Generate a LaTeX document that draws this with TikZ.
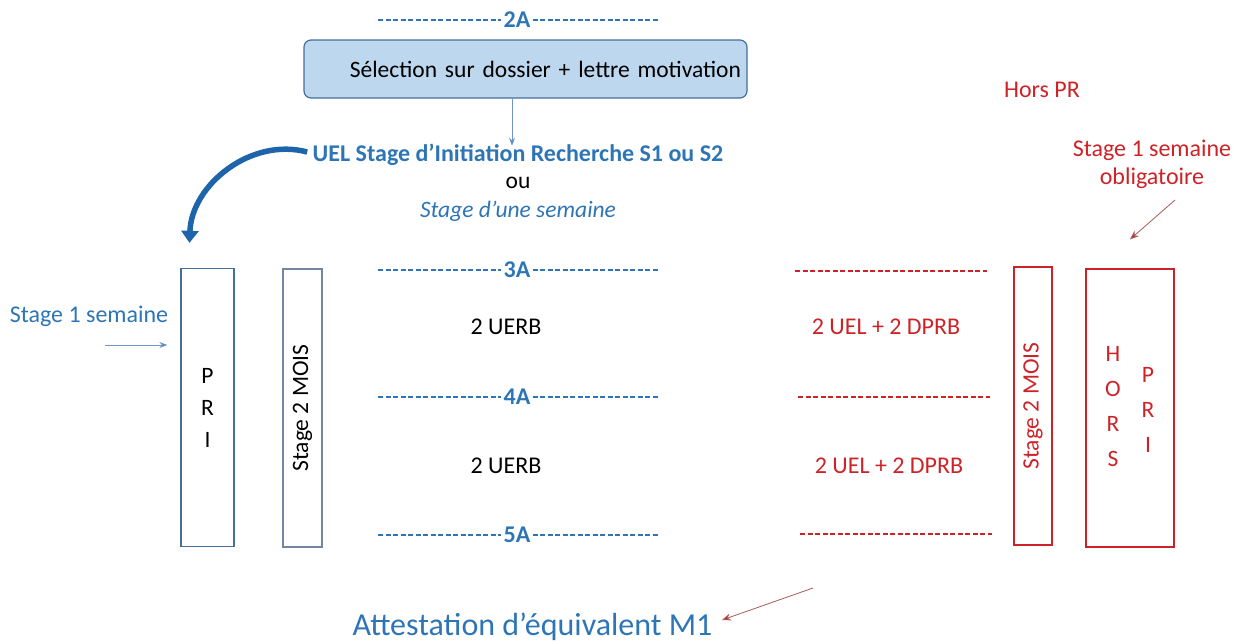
\documentclass[tikz,border=0pt]{standalone}
\usepackage{fontspec}
\setmainfont{Carlito}
\usetikzlibrary{calc,arrows.meta}
\definecolor{pblue}{RGB}{46,117,182}
\definecolor{pred}{RGB}{205,35,40}
\definecolor{boxfill}{RGB}{189,215,238}
\definecolor{boxline}{RGB}{70,110,155}
\definecolor{greyline}{RGB}{115,135,160}
\definecolor{linkblue}{RGB}{110,150,200}
\definecolor{swoosh}{RGB}{30,100,170}
\definecolor{redline}{RGB}{170,90,90}
\newcommand{\fs}[1]{\fontsize{#1}{28}\selectfont}

\begin{document}
\begin{tikzpicture}[x=1pt,y=1pt,
  yearlbl/.style={text=pblue,font=\fs{24}\bfseries,inner xsep=2pt},
  bluedash/.style={draw=pblue,line width=1.3pt,dash pattern=on 5pt off 2.5pt},
  reddash/.style={draw=pred,line width=1.3pt,dash pattern=on 5pt off 2.5pt},
  colbox/.style={draw=boxline,line width=1.3pt,minimum height=278pt},
  linkarrow/.style={draw=linkblue,line width=0.8pt,-{Stealth[length=8pt,width=6pt,fill=pblue]}},
  redarrow/.style={draw=redline,line width=0.8pt,-{Stealth[length=9pt,width=7pt,fill=pred]}}]
\useasboundingbox (0,0) rectangle (1234,-643);

% 2A and the selection step
\node[yearlbl] (y2A) at (517,-20) {2A};
\draw[bluedash] (378,-20) -- (y2A.west);
\draw[bluedash] (y2A.east) -- (658,-20);
\node[draw=boxline,fill=boxfill,line width=1.2pt,rounded corners=7pt,
  minimum width=443pt,minimum height=58pt,text width=431pt,inner xsep=6pt,
  align=right,font=\fs{23.5}] (selbox) at (525.5,-69) {Sélection sur dossier + lettre motivation};

\node[text=pblue,font=\fs{24}\bfseries] (uel) at (518,-155) {UEL Stage d’Initiation Recherche S1 ou S2};
\node[font=\fs{23.5}] (ou) at (518,-183) {ou};
\node[text=pblue,font=\fs{23.5}\itshape] (semaine) at (518,-211) {Stage d’une semaine};
\draw[linkarrow] ([xshift=-13.5pt]selbox.south) -- ([xshift=-6pt,yshift=-5pt]uel.north);

% years 3A to 5A
\foreach \yr/\y in {3A/270,4A/397,5A/535}{
  \node[yearlbl] (y\yr) at (517,-\y) {\yr};
  \draw[bluedash] (378,-\y) -- (y\yr.west);
  \draw[bluedash] (y\yr.east) -- (658,-\y);
}
\node[font=\fs{24}] (uerb1) at (506,-327) {2 UERB};
\node[font=\fs{24}] (uerb2) at (506,-466) {2 UERB};

% left column: PRI
\node[colbox,minimum width=53pt,align=center,
  font=\fontsize{23.5}{32}\selectfont] (pri) at (207.5,-407.5) {P\\R\\I};
\node[colbox,draw=greyline,minimum width=278pt,minimum height=39pt,rotate=90,font=\fs{23.5}] (mois1) at (302.5,-408) {Stage 2 MOIS};
\node[text=pblue,font=\fs{24}] (s1left) at (89,-316) {Stage 1 semaine};
\coordinate (s1arr) at (105,-345);
\draw[linkarrow] (s1arr) -- ($(pri.west |- s1arr)+(-13,0)$);
\draw[swoosh,line width=5.5pt,-{Triangle[length=12pt,width=17pt]}]
  ([xshift=-2pt,yshift=3pt]uel.west) to[out=165,in=88] ($(pri.north)+(-18,25)$);

% right column: hors PR
\node[text=pred,font=\fs{24}] (horspr) at (1042,-90) {Hors PR};
\node[text=pred,font=\fs{24},align=center] (oblig) at (1152,-164) {Stage 1 semaine\\obligatoire};
\foreach \y/\x in {271/795,397/798,534/800}
  \draw[reddash] (\x,-\y) -- ++(192,0);
\node[text=pred,font=\fs{24}] (uel1) at (886,-327) {2 UEL + 2 DPRB};
\node[text=pred,font=\fs{24}] (uel2) at (889,-466) {2 UEL + 2 DPRB};
\node[colbox,draw=pred,minimum width=278pt,minimum height=38pt,rotate=90,
  text=pred,font=\fs{23.5}] (mois2) at (1033,-406) {Stage 2 MOIS};
\node[colbox,draw=pred,minimum width=88pt] (horsbox) at (1130,-408) {};
\node[text=pred,align=center,font=\fontsize{23.5}{35}\selectfont] (hors) at (1113,-407) {H\\O\\R\\S};
\node[text=pred,align=center,font=\fontsize{23.5}{35}\selectfont] (prired) at (1148,-410) {P\\R\\I};
\coordinate (oblarr) at (1175,-200);
\draw[redarrow] (oblarr) -- ($(horsbox.north)+(0,29)$);

% outcome
\node[text=pblue,font=\fs{32}] (attest) at (532.5,-627) {Attestation d’équivalent M1};
\coordinate (attarr) at (813,-588);
\draw[redarrow] (attarr) -- ($(attest.east)+(6,7)$);
\end{tikzpicture}
\end{document}
